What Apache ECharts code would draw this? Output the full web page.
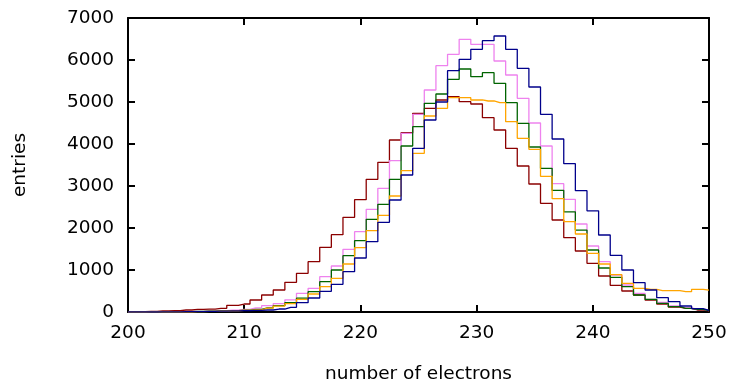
<!DOCTYPE html>
<html>
<head>
<meta charset="utf-8">
<script src="https://cdn.jsdelivr.net/npm/echarts@6/dist/echarts.min.js"></script>
<style>
html,body{margin:0;padding:0;background:#fff;}
#chart{width:732px;height:379px;}
</style>
</head>
<body>
<div id="chart"></div>
<script>
const bins = [200,201,202,203,204,205,206,207,208,209,210,211,212,213,214,215,216,217,218,219,220,221,222,223,224,225,226,227,228,229,230,231,232,233,234,235,236,237,238,239,240,241,242,243,244,245,246,247,248,249,250];

const darkred = [5,10,15,25,35,48,63,70,87,159,190,286,405,524,706,921,1198,1540,1841,2254,2675,3159,3563,4095,4270,4730,4849,5048,5127,5008,4952,4627,4333,3897,3476,3048,2587,2190,1770,1452,1159,857,635,500,405,286,190,119,87,48,30];
const violet = [0,0,2,4,6,10,15,20,30,45,60,100,150,200,290,444,563,841,1095,1492,1913,2444,2944,3603,4254,4706,5286,5865,6135,6492,6373,6373,5976,5643,5087,4500,3952,3056,2683,2095,1571,1198,881,643,444,302,230,143,100,63,30];
const green = [0,0,1,3,5,8,12,18,25,35,45,60,100,150,220,330,484,722,1000,1341,1698,2206,2563,3159,3952,4413,4968,5191,5540,5786,5603,5698,5445,4984,4492,3929,3421,2897,2385,1950,1476,1048,825,603,405,302,206,127,87,63,30];
const orange = [0,0,1,2,4,6,10,15,20,30,40,50,90,140,200,300,429,603,802,1143,1532,1937,2301,2762,3365,3778,4667,4849,5103,5103,5048,5024,4984,4532,4135,3873,3231,2698,2151,1857,1397,1143,889,682,563,540,508,508,484,540,520];
const blue = [0,0,0,3,5,8,10,15,20,25,35,40,48,71,111,222,333,492,659,960,1286,1675,2135,2667,3262,3897,4571,5000,5746,6016,6254,6460,6571,6254,5802,5357,4706,4119,3532,2889,2409,1833,1349,1000,698,524,341,246,143,79,40];

const yTicks = [0,1000,2000,3000,4000,5000,6000,7000];

const FONT = 'DejaVu Sans';
const chart = echarts.init(document.getElementById('chart'), null, {renderer:'canvas'});

function mk(name, arr, color){
  return {
    name, type:'line', step:'middle', showSymbol:false, symbol:'none',
    data: bins.map((b,i)=>[b, arr[i]]),
    lineStyle:{color, width:1.3},
    itemStyle:{color},
    clip:true, animation:false, z:3
  };
}

const axisLineStyle = {color:'#000', width:2};
chart.setOption({
  backgroundColor:'#fff',
  animation:false,
  grid:{left:128, top:18, width:581, height:294, containLabel:false, outerBoundsMode:'none'},
  xAxis:[{
    type:'value', min:200, max:250, interval:10, position:'bottom',
    name:'number of electrons', nameLocation:'middle', nameGap:53,
    nameTextStyle:{fontFamily:FONT, fontSize:18.5, color:'#000'},
    axisLine:{show:true, onZero:false, lineStyle:axisLineStyle},
    axisTick:{show:true, inside:true, length:7, lineStyle:{color:'#000', width:2}},
    axisLabel:{fontFamily:FONT, fontSize:18.5, color:'#000', margin:12},
    splitLine:{show:false}
  },{
    type:'value', min:200, max:250, interval:10, position:'top',
    axisLine:{show:true, onZero:false, lineStyle:axisLineStyle},
    axisTick:{show:true, inside:true, length:7, lineStyle:{color:'#000', width:2}},
    axisLabel:{show:false}, splitLine:{show:false}
  }],
  yAxis:[{
    type:'value', min:0, max:7000, interval:1000, position:'left',
    name:'entries', nameLocation:'middle', nameGap:98,
    nameTextStyle:{fontFamily:FONT, fontSize:18.5, color:'#000'},
    axisLine:{show:true, onZero:false, lineStyle:axisLineStyle},
    axisTick:{show:true, inside:true, length:7, lineStyle:{color:'#000', width:2}},
    axisLabel:{fontFamily:FONT, fontSize:18.5, color:'#000', margin:14,
      formatter:(v)=> yTicks.includes(v) ? String(v) : ''},
    splitLine:{show:false}
  },{
    type:'value', min:0, max:7000, interval:1000, position:'right',
    axisLine:{show:true, onZero:false, lineStyle:axisLineStyle},
    axisTick:{show:true, inside:true, length:7, lineStyle:{color:'#000', width:2}},
    axisLabel:{show:false}, splitLine:{show:false}
  }],
  series:[
    mk('dark red', darkred, '#8B0000'),
    mk('violet', violet, '#EE82EE'),
    mk('green', green, '#006400'),
    mk('orange', orange, '#FFA500'),
    mk('blue', blue, '#00008B')
  ]
});
</script>
</body>
</html>
